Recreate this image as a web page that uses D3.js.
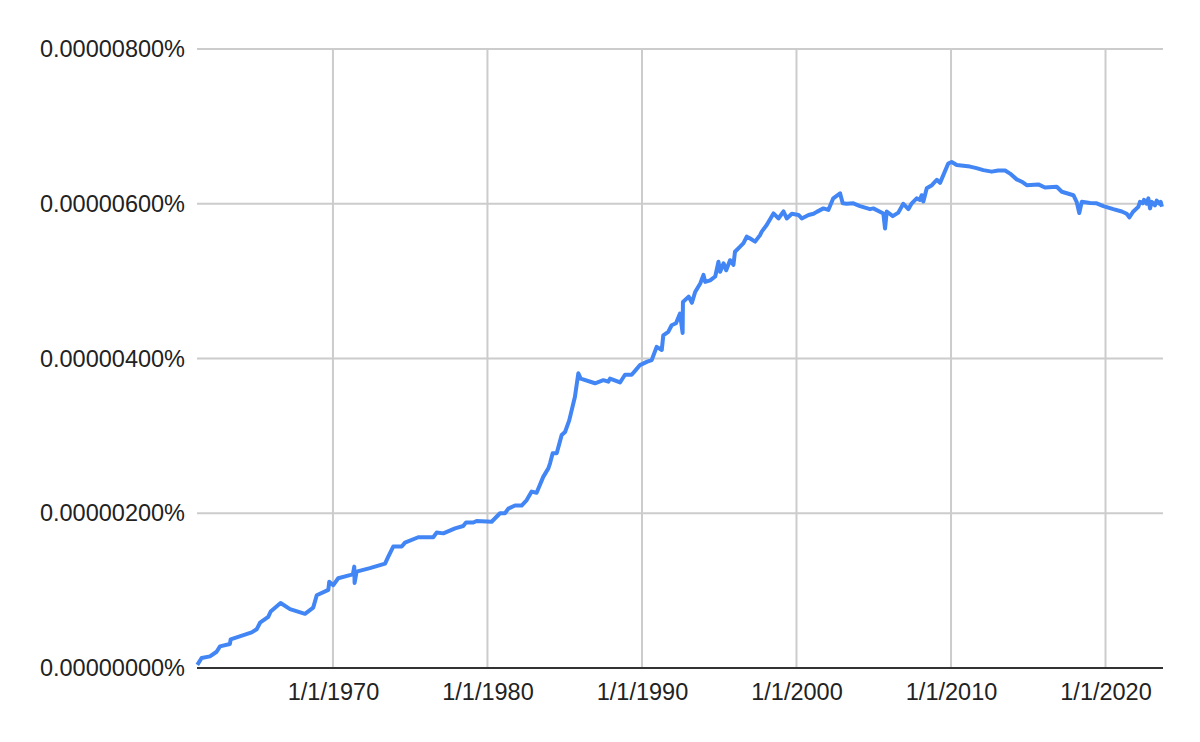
<!DOCTYPE html>
<html>
<head>
<meta charset="utf-8">
<script src="https://cdn.jsdelivr.net/npm/d3@7"></script>
<style>
  html, body { margin: 0; padding: 0; background: #ffffff; }
  svg { display: block; }
  text { font-family: Arial, "Liberation Sans", sans-serif; fill: #222222; }
</style>
</head>
<body>
<svg id="chart" width="1200" height="742"></svg>
<script>
// Observations: [decimal year, value in millionths of a percent] (6.54 = 0.00000654%)
const observations = [
  [1961.22, 0.04], [1961.50, 0.13], [1962.04, 0.15], [1962.47, 0.21], [1962.69, 0.28],
  [1963.33, 0.31], [1963.38, 0.37], [1964.74, 0.46], [1965.06, 0.50], [1965.28, 0.585],
  [1965.81, 0.66], [1965.97, 0.73], [1966.61, 0.84], [1967.22, 0.76], [1968.19, 0.70],
  [1968.72, 0.78], [1968.95, 0.94], [1969.70, 1.01], [1969.76, 1.115], [1970.02, 1.07],
  [1970.34, 1.16], [1971.10, 1.20], [1971.29, 1.21], [1971.38, 1.31], [1971.40, 1.10],
  [1971.53, 1.245], [1972.39, 1.29], [1973.37, 1.35], [1973.58, 1.44], [1973.90, 1.57],
  [1974.45, 1.57], [1974.66, 1.62], [1975.52, 1.69], [1976.49, 1.69], [1976.71, 1.75],
  [1977.14, 1.74], [1977.90, 1.805], [1978.43, 1.835], [1978.61, 1.88], [1979.08, 1.88],
  [1979.30, 1.90], [1980.27, 1.89], [1980.81, 2.00], [1981.13, 2.00], [1981.35, 2.06],
  [1981.78, 2.10], [1982.21, 2.10], [1982.54, 2.17], [1982.86, 2.28], [1983.18, 2.265],
  [1983.61, 2.47], [1983.94, 2.58], [1984.05, 2.645], [1984.22, 2.775], [1984.48, 2.775],
  [1984.80, 3.01], [1985.02, 3.05], [1985.29, 3.20], [1985.66, 3.505], [1985.88, 3.81],
  [1986.03, 3.74], [1986.96, 3.68], [1987.50, 3.72], [1987.82, 3.70], [1987.93, 3.74],
  [1988.58, 3.69], [1988.90, 3.79], [1989.33, 3.79], [1989.55, 3.84], [1989.87, 3.915],
  [1990.34, 3.96], [1990.63, 3.98], [1990.95, 4.15], [1991.28, 4.11], [1991.38, 4.30],
  [1991.70, 4.345], [1991.92, 4.43], [1992.20, 4.455], [1992.46, 4.58], [1992.63, 4.33],
  [1992.65, 4.73], [1993.02, 4.80], [1993.23, 4.72], [1993.44, 4.86], [1993.77, 4.97],
  [1993.98, 5.08], [1994.09, 4.99], [1994.41, 5.01], [1994.74, 5.06], [1994.95, 5.25],
  [1995.06, 5.12], [1995.28, 5.23], [1995.45, 5.14], [1995.70, 5.27], [1995.92, 5.21],
  [1996.02, 5.38], [1996.35, 5.445], [1996.57, 5.49], [1996.78, 5.575], [1997.00, 5.55],
  [1997.32, 5.51], [1997.64, 5.595], [1997.75, 5.64], [1998.07, 5.725], [1998.51, 5.875],
  [1998.83, 5.81], [1999.16, 5.90], [1999.37, 5.81], [1999.70, 5.87], [2000.13, 5.855],
  [2000.34, 5.81], [2000.78, 5.855], [2001.10, 5.87], [2001.31, 5.895], [2001.74, 5.94],
  [2002.06, 5.92], [2002.38, 6.07], [2002.82, 6.135], [2002.99, 6.005], [2003.25, 6.00],
  [2003.68, 6.005], [2004.11, 5.97], [2004.76, 5.93], [2004.97, 5.94], [2005.62, 5.875],
  [2005.73, 5.68], [2005.84, 5.90], [2006.23, 5.84], [2006.59, 5.885], [2006.91, 6.00],
  [2007.24, 5.93], [2007.46, 6.005], [2007.78, 6.07], [2007.99, 6.05], [2008.10, 6.11],
  [2008.21, 6.03], [2008.43, 6.20], [2008.76, 6.24], [2009.08, 6.31], [2009.29, 6.27],
  [2009.82, 6.52], [2010.04, 6.54], [2010.37, 6.50], [2010.80, 6.49], [2011.23, 6.48],
  [2011.65, 6.46], [2012.09, 6.435], [2012.63, 6.415], [2013.05, 6.43], [2013.50, 6.43],
  [2013.82, 6.39], [2014.25, 6.315], [2014.58, 6.285], [2014.90, 6.24], [2015.65, 6.25],
  [2016.08, 6.21], [2016.84, 6.22], [2017.17, 6.155], [2017.92, 6.11], [2018.13, 6.025],
  [2018.30, 5.88], [2018.46, 6.025], [2019.00, 6.01], [2019.43, 6.005], [2019.86, 5.97],
  [2020.50, 5.93], [2021.05, 5.90], [2021.37, 5.87], [2021.54, 5.825], [2021.80, 5.90],
  [2022.12, 5.96], [2022.23, 6.025], [2022.41, 6.005], [2022.49, 6.05], [2022.67, 6.00],
  [2022.77, 6.07], [2022.88, 5.94], [2022.99, 6.025], [2023.20, 5.98], [2023.31, 6.04],
  [2023.48, 6.00], [2023.57, 6.025], [2023.65, 5.96]
];

const yTicks = [0, 2, 4, 6, 8];
const xTickYears = [1970, 1980, 1990, 2000, 2010, 2020];
const xDomainYears = [1961.2, 2023.72];

const width = 1200, height = 742;
const margin = { top: 49, right: 37, bottom: 74, left: 197 };
const fontSize = 23.5;

const svg = d3.select("#chart");

function yearToDate(y) {
  const yr = Math.floor(y);
  const start = new Date(yr, 0, 1), end = new Date(yr + 1, 0, 1);
  return new Date(start.getTime() + (y - yr) * (end - start));
}

const data = observations.map(([yr, v]) => ({ date: yearToDate(yr), value: v }));

const x = d3.scaleTime()
  .domain(xDomainYears.map(yearToDate))
  .range([margin.left, width - margin.right]);

const y = d3.scaleLinear()
  .domain([0, 8])
  .range([height - margin.bottom, margin.top]);

// Horizontal gridlines
svg.append("g")
  .selectAll("line")
  .data(yTicks.filter(d => d !== 0))
  .join("line")
  .attr("x1", margin.left).attr("x2", width - margin.right)
  .attr("y1", d => y(d)).attr("y2", d => y(d))
  .attr("stroke", "#cccccc").attr("stroke-width", 2);

// Vertical gridlines
svg.append("g")
  .selectAll("line")
  .data(xTickYears)
  .join("line")
  .attr("x1", d => x(new Date(d, 0, 1))).attr("x2", d => x(new Date(d, 0, 1)))
  .attr("y1", margin.top).attr("y2", height - margin.bottom)
  .attr("stroke", "#cccccc").attr("stroke-width", 2);

// Y axis labels
const yAxis = d3.axisLeft(y)
  .tickValues(yTicks)
  .tickSize(0)
  .tickPadding(12)
  .tickFormat(d => (d * 1e-6).toFixed(8) + "%");
const gy = svg.append("g")
  .attr("transform", `translate(${margin.left},0)`)
  .call(yAxis);
gy.select(".domain").remove();
gy.selectAll("text").attr("font-size", fontSize).style("font-family", "Arial, 'Liberation Sans', sans-serif").attr("fill", "#222");

// X axis labels
const xAxis = d3.axisBottom(x)
  .tickValues(xTickYears.map(d => new Date(d, 0, 1)))
  .tickSize(0)
  .tickPadding(15)
  .tickFormat(d => `1/1/${d.getFullYear()}`);
const gx = svg.append("g")
  .attr("transform", `translate(0,${height - margin.bottom})`)
  .call(xAxis);
gx.select(".domain").remove();
gx.selectAll("text").attr("font-size", fontSize).style("font-family", "Arial, 'Liberation Sans', sans-serif").attr("fill", "#222");

// Line
const line = d3.line()
  .x(d => x(d.date))
  .y(d => y(d.value));

svg.append("path")
  .datum(data)
  .attr("fill", "none")
  .attr("stroke", "#4285f4")
  .attr("stroke-width", 4)
  .attr("stroke-linejoin", "round")
  .attr("d", line);

// Baseline
svg.append("line")
  .attr("x1", margin.left).attr("x2", width - margin.right)
  .attr("y1", y(0)).attr("y2", y(0))
  .attr("stroke", "#333333").attr("stroke-width", 2);
</script>
</body>
</html>
